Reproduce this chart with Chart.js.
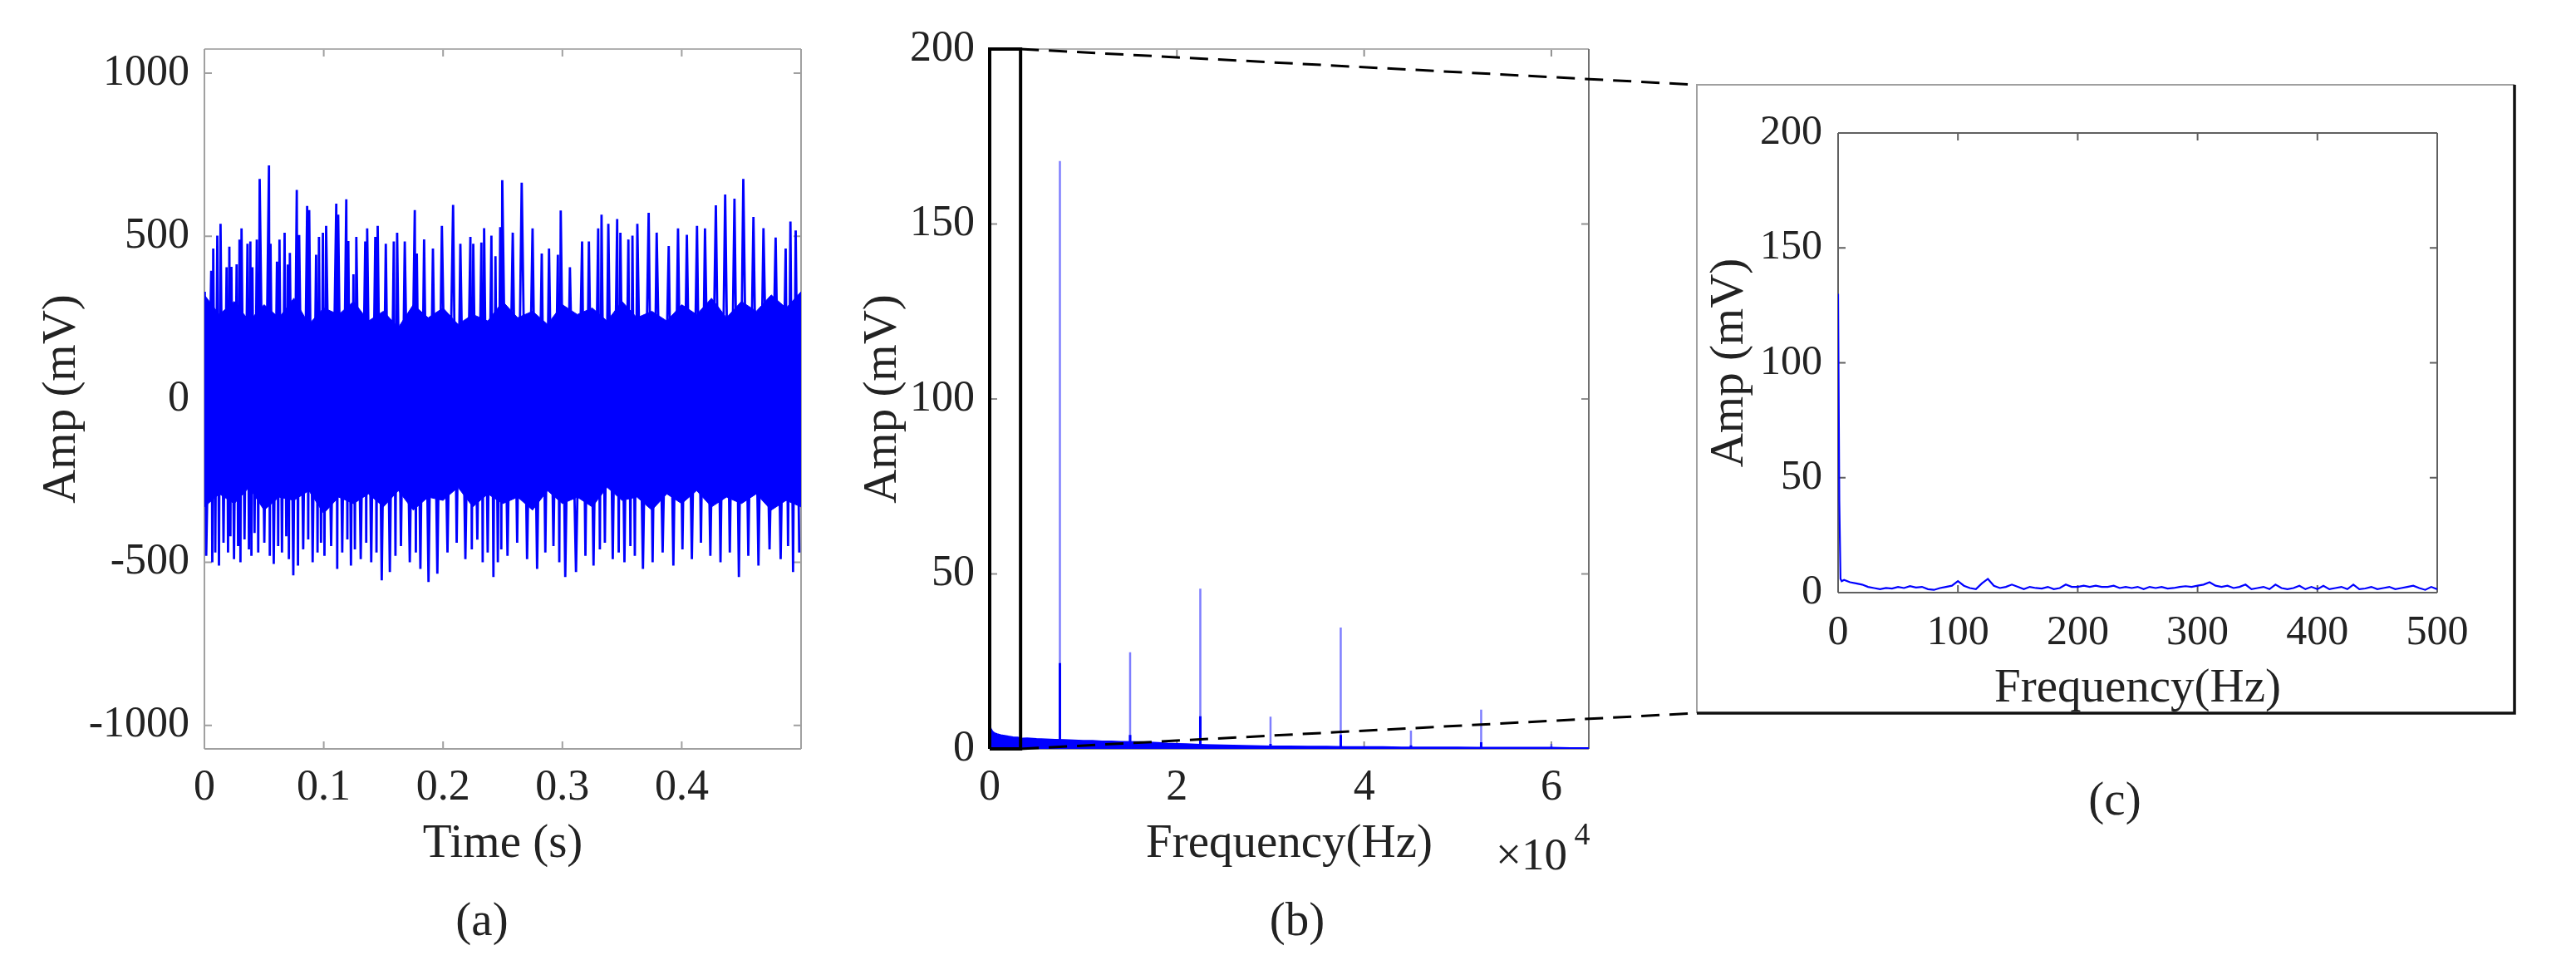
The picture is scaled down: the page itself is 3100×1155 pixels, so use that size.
<!DOCTYPE html>
<html>
<head>
<meta charset="utf-8">
<script src="https://cdn.jsdelivr.net/npm/chart.js@4.4.1/dist/chart.umd.min.js"></script>
<style>
html,body{margin:0;padding:0;background:#fff;}
#wrap{position:relative;width:3100px;height:1155px;overflow:hidden;background:#fff;font-family:"Liberation Serif","Times New Roman",serif;color:#222;}
canvas{position:absolute;top:0;}
.cap{position:absolute;transform:translate(-50%,-50%);line-height:1;white-space:nowrap;font-size:57px;}
</style>
</head>
<body>
<div id="wrap">
  <canvas id="cA" width="1000" height="1155" style="left:0px"></canvas>
  <canvas id="cB" width="1100" height="1155" style="left:1000px"></canvas>
  <canvas id="cC" width="1100" height="1155" style="left:2000px"></canvas>
  <div class="cap" style="left:580px;top:1105px">(a)</div>
  <div class="cap" style="left:1561px;top:1105px">(b)</div>
  <div class="cap" style="left:2545px;top:960px">(c)</div>
  <div class="cap" style="left:1843px;top:1027px;font-size:55px">×10</div>
  <div class="cap" style="left:1904px;top:1003px;font-size:38px">4</div>
</div>
<script>
// ---------------- Panel (a): time signal ----------------
const upperTimeA = [0.0003,0.0057,0.0074,0.0108,0.0135,0.0186,0.0209,0.0226,0.0270,0.0294,0.0311,0.0361,0.0385,0.0402,0.0439,0.0463,0.0541,0.0554,0.0608,0.0629,0.0672,0.0699,0.0716,0.0774,0.0794,0.0861,0.0878,0.0936,0.0960,0.0993,0.1020,0.1105,0.1121,0.1189,0.1206,0.1249,0.1273,0.1348,0.1364,0.1432,0.1452,0.1520,0.1587,0.1615,0.1679,0.1763,0.1780,0.1841,0.1915,0.1990,0.2084,0.2145,0.2229,0.2253,0.2321,0.2344,0.2405,0.2439,0.2479,0.2496,0.2584,0.2659,0.2750,0.2827,0.2888,0.2962,0.2986,0.3063,0.3165,0.3222,0.3300,0.3328,0.3385,0.3459,0.3486,0.3553,0.3587,0.3628,0.3723,0.3790,0.3891,0.3969,0.4043,0.4128,0.4195,0.4286,0.4364,0.4442,0.4516,0.4601,0.4685,0.4787,0.4871,0.4911,0.4955];
const upperAmpA = [330,394,462,502,538,405,468,406,414,490,524,477,484,405,490,676,717,477,422,490,511,413,449,642,504,593,580,443,498,511,532,600,566,613,485,383,498,484,524,498,532,477,484,511,484,580,447,490,462,532,596,477,498,477,481,525,502,439,528,672,511,664,524,447,462,443,579,405,484,484,524,566,538,553,511,490,502,538,572,511,470,524,504,532,524,595,628,615,676,559,525,496,462,545,518];
const lowerTimeA = [0.0015,0.0066,0.0091,0.0122,0.0160,0.0198,0.0218,0.0248,0.0282,0.0302,0.0336,0.0373,0.0394,0.0420,0.0451,0.0502,0.0548,0.0581,0.0618,0.0650,0.0686,0.0708,0.0745,0.0784,0.0828,0.0870,0.0907,0.0948,0.0977,0.1006,0.1062,0.1113,0.1155,0.1198,0.1228,0.1261,0.1310,0.1356,0.1398,0.1442,0.1486,0.1554,0.1601,0.1647,0.1721,0.1772,0.1810,0.1878,0.1952,0.2037,0.2114,0.2187,0.2241,0.2287,0.2332,0.2374,0.2422,0.2459,0.2488,0.2540,0.2621,0.2704,0.2788,0.2857,0.2925,0.2974,0.3024,0.3114,0.3193,0.3261,0.3314,0.3356,0.3422,0.3472,0.3520,0.3570,0.3607,0.3675,0.3756,0.3840,0.3930,0.4006,0.4085,0.4161,0.4240,0.4325,0.4403,0.4479,0.4558,0.4643,0.4736,0.4829,0.4891,0.4933,0.4985];
const lowerAmpA = [-480,-500,-470,-510,-440,-470,-420,-490,-450,-500,-430,-460,-480,-410,-470,-440,-480,-505,-450,-470,-420,-490,-540,-510,-460,-430,-500,-470,-440,-480,-450,-520,-470,-430,-510,-460,-490,-440,-500,-470,-555,-530,-480,-450,-500,-470,-520,-560,-535,-470,-440,-490,-460,-430,-500,-470,-545,-500,-460,-480,-440,-490,-520,-470,-450,-500,-545,-530,-480,-510,-460,-440,-490,-470,-500,-450,-480,-520,-500,-470,-510,-460,-490,-440,-480,-500,-470,-545,-480,-510,-460,-490,-450,-530,-470];
const coreTimeA = [0,0.0125,0.025,0.0375,0.05,0.0625,0.075,0.0875,0.1,0.1125,0.125,0.1375,0.15,0.1625,0.175,0.1875,0.2,0.2125,0.225,0.2375,0.25,0.2625,0.275,0.2875,0.3,0.3125,0.325,0.3375,0.35,0.3625,0.375,0.3875,0.4,0.4125,0.425,0.4375,0.45,0.4625,0.475,0.4875,0.5];
const coreUpperA = [320,260,300,240,290,250,310,230,280,260,300,240,270,220,290,250,280,230,260,240,300,250,270,230,290,260,280,240,300,250,270,240,290,260,310,250,300,270,320,280,330];
const coreLowerA = [-330,-290,-320,-270,-340,-300,-310,-280,-350,-300,-320,-290,-330,-280,-340,-300,-310,-270,-330,-290,-320,-300,-340,-280,-320,-300,-330,-270,-310,-300,-340,-290,-320,-280,-330,-300,-320,-290,-340,-310,-330];
const ticksXA = [0,0.1,0.2,0.3,0.4];
const labelsXA = ['0','0.1','0.2','0.3','0.4'];
const ticksYA = [-1000,-500,0,500,1000];
const labelsYA = ['-1000','-500','0','500','1000'];

// ---------------- Panel (b): spectrum ----------------
const floorFreqB = [0,150,300,500,800,1200,1600,2000,2500,3000,3500,4000,5000,6000,7000,8000,9000,10000,11000,12000,13000,14000,16000,17000,18000,19000,20000,21000,23000,24000,26000,28000,30000,32000,34000,36000,38000,40000,42000,44000,46000,48000,50000,52000,54000,56000,58000,60000,62000,64000];
const floorAmpB = [6.8,5.8,5.0,4.6,4.3,4.0,3.8,3.6,3.4,3.3,3.0,3.1,2.9,2.8,2.7,2.6,2.5,2.4,2.4,2.2,2.2,2.1,2.0,1.9,1.8,1.6,1.5,1.4,1.2,1.1,1.0,0.9,0.8,0.8,0.7,0.7,0.6,0.6,0.6,0.5,0.5,0.5,0.5,0.4,0.4,0.4,0.4,0.4,0.3,0.3];
const peakFreqB = [0,7500,15000,22500,30000,37500,45000,52500,60000];
const peakAmpB = [130,168,27.6,45.8,9.2,34.7,5.2,11.2,1.4];
const peakCoreB = [130,24.5,4,9.3,1.4,4,1,1.9,0.6];
const zoomBoxFreqB = [0,0,3300,3300,0];
const zoomBoxAmpB = [0,200,200,0,0];
const ticksXB = [0,20000,40000,60000];
const labelsXB = ['0','2','4','6'];
const ticksYB = [0,50,100,150,200];
const labelsYB = ['0','50','100','150','200'];

// ---------------- Panel (c): zoomed spectrum ----------------
const freqC = [0,1,2,3,5,10,15,20,25,30,35,40,45,50,55,60,65,70,75,80,85,90,95,100,105,110,115,120,125,130,135,140,145,150,155,160,165,170,175,180,185,190,195,200,205,210,215,220,225,230,235,240,245,250,255,260,265,270,275,280,285,290,295,300,305,310,315,320,325,330,335,340,345,350,355,360,365,370,375,380,385,390,395,400,405,410,415,420,425,430,435,440,445,450,455,460,465,470,475,480,485,490,495,500];
const ampC = [130,40,6,5,5.5,4.5,4,3.5,2.5,2,1.5,2,1.8,2.5,2,2.8,2.2,2.5,1.5,1.2,2,2.5,3,5,3,2,1.5,4,6,3,2,2.5,3.5,2.5,1.5,2.5,2,1.8,2.5,1.5,2,3.5,2.5,2.5,3,2.5,3,2.5,2.5,3,2,2.5,2,2.5,1.5,2.5,2,2.5,1.8,2,2.5,2.8,2.5,3,3.5,4.5,3,2.5,3,2,2.5,3.5,1.5,2,2.5,1.5,3.5,2,1.5,2,3,1.5,2.5,1.5,3,1.5,2,2.5,1.5,3.5,1.5,1.8,2.5,1.5,2,2.5,1.5,2,2.5,3,2,1.2,2.5,1.5];
const ticksXC = [0,100,200,300,400,500];
const labelsXC = ['0','100','200','300','400','500'];
const ticksYC = [0,50,100,150,200];
const labelsYC = ['0','50','100','150','200'];

// ---------------- helpers ----------------
const SERIF = '"Liberation Serif", "Times New Roman", Times, serif';
const TEXT = '#222';
const BLUE = '#0000ff';

const matlabAxes = {
  id: 'matlabAxes',
  beforeDatasetsDraw(chart, _args, o) {
    const {ctx, chartArea: A, scales: {x, y}} = chart;
    ctx.save();
    ctx.lineWidth = o.lineWidth || 2;
    const L = o.tickLength || 9;
    ctx.strokeStyle = o.tickColor;
    ctx.beginPath();
    x.ticks.forEach(t => {
      const p = x.getPixelForValue(t.value);
      ctx.moveTo(p, A.bottom); ctx.lineTo(p, A.bottom - L);
      ctx.moveTo(p, A.top); ctx.lineTo(p, A.top + L);
    });
    y.ticks.forEach(t => {
      const p = y.getPixelForValue(t.value);
      ctx.moveTo(A.left, p); ctx.lineTo(A.left + L, p);
      ctx.moveTo(A.right, p); ctx.lineTo(A.right - L, p);
    });
    ctx.stroke();
    const c = o.colors;
    [['top', A.left, A.top, A.right, A.top], ['right', A.right, A.top, A.right, A.bottom],
     ['bottom', A.left, A.bottom, A.right, A.bottom], ['left', A.left, A.top, A.left, A.bottom]]
      .forEach(([k, x1, y1, x2, y2]) => {
        ctx.strokeStyle = c[k]; ctx.beginPath(); ctx.moveTo(x1, y1); ctx.lineTo(x2, y2); ctx.stroke();
      });
    ctx.restore();
  }
};

const connectors = {
  id: 'connectors',
  afterDraw(chart, _args, o) {
    if (!o || !o.to) return;
    const {ctx, scales: {x, y}} = chart;
    ctx.save();
    ctx.setLineDash(o.dash);
    ctx.lineWidth = o.width;
    ctx.strokeStyle = o.color;
    const x0 = x.getPixelForValue(o.fromX);
    o.fromY.forEach((v, i) => {
      ctx.beginPath();
      ctx.moveTo(x0, y.getPixelForValue(v));
      ctx.lineTo(o.to[i][0], o.to[i][1]);
      ctx.stroke();
    });
    ctx.restore();
  }
};

const outerFrame = {
  id: 'outerFrame',
  beforeDraw(chart, _args, o) {
    if (!o || !o.rect) return;
    const {ctx} = chart;
    const [l, t, r, b] = o.rect;
    ctx.save();
    ctx.lineWidth = 2; ctx.strokeStyle = o.light;
    ctx.beginPath(); ctx.moveTo(l, b); ctx.lineTo(l, t); ctx.lineTo(r, t); ctx.stroke();
    ctx.lineWidth = o.darkWidth; ctx.strokeStyle = o.dark;
    ctx.beginPath(); ctx.moveTo(r, t); ctx.lineTo(r, b); ctx.lineTo(l, b); ctx.stroke();
    ctx.restore();
  }
};

function xScale(min, max, ticks, labels, title, tickSize, tickPad, height, titlePadBottom) {
  return {
    type: 'linear', position: 'bottom', min: min, max: max,
    grid: {display: false, drawTicks: false}, border: {display: false},
    afterBuildTicks: s => { s.ticks = ticks.map(v => ({value: v})); },
    afterFit: s => { s.height = height; },
    ticks: {autoSkip: false, maxRotation: 0, padding: tickPad, color: TEXT,
            font: {family: SERIF, size: tickSize}, callback: (v, i) => labels[i]},
    title: {display: true, text: title, color: TEXT, font: {family: SERIF, size: 57},
            padding: {top: 0, bottom: titlePadBottom}}
  };
}
function yScale(min, max, ticks, labels, title, tickSize, tickPad, width, titlePadTop) {
  return {
    type: 'linear', position: 'left', min: min, max: max,
    grid: {display: false, drawTicks: false}, border: {display: false},
    afterBuildTicks: s => { s.ticks = ticks.map(v => ({value: v})); },
    afterFit: s => { s.width = width; },
    ticks: {autoSkip: false, padding: tickPad, color: TEXT,
            font: {family: SERIF, size: tickSize}, callback: (v, i) => labels[i]},
    title: {display: true, text: title, color: TEXT, font: {family: SERIF, size: 57},
            padding: {top: titlePadTop, bottom: 0}}
  };
}
const baseOpts = {
  responsive: false, animation: false, events: [],
  elements: {point: {radius: 0}, line: {tension: 0}},
};

// ---------------- Chart (a) ----------------
const signalA = upperTimeA.map((t, i) => ({x: t, y: upperAmpA[i]}))
  .concat(lowerTimeA.map((t, i) => ({x: t, y: lowerAmpA[i]})))
  .sort((p, q) => p.x - q.x);

new Chart(document.getElementById('cA'), {
  type: 'line',
  data: {datasets: [
    {data: signalA, borderColor: BLUE, borderWidth: 2.8, fill: false},
    {data: coreTimeA.map((t, i) => ({x: t, y: coreUpperA[i]})), borderColor: BLUE, borderWidth: 1,
     backgroundColor: BLUE, fill: '+1'},
    {data: coreTimeA.map((t, i) => ({x: t, y: coreLowerA[i]})), borderColor: BLUE, borderWidth: 1, fill: false}
  ]},
  options: Object.assign({}, baseOpts, {
    layout: {padding: {left: 0, top: 59, right: 36, bottom: 104}},
    scales: {
      x: xScale(0, 0.5, ticksXA, labelsXA, 'Time (s)', 52, 16, 150, 1),
      y: yScale(-1072, 1074, ticksYA, labelsYA, 'Amp (mV)', 52, 18, 246, 41)
    },
    plugins: {legend: {display: false}, tooltip: {enabled: false},
      matlabAxes: {tickColor: '#a0a0a0', lineWidth: 2,
        colors: {top: '#b0b0b0', right: '#a0a0a0', bottom: '#a0a0a0', left: '#a0a0a0'}}}
  }),
  plugins: [matlabAxes]
});

// ---------------- Chart (b) ----------------
const peakLinesB = [], peakCoresB = [];
peakFreqB.forEach((f, i) => {
  peakLinesB.push({x: f, y: 0}, {x: f, y: peakAmpB[i]}, {x: f, y: null});
  peakCoresB.push({x: f, y: 0}, {x: f, y: peakCoreB[i]}, {x: f, y: null});
});

new Chart(document.getElementById('cB'), {
  type: 'line',
  data: {datasets: [
    {data: zoomBoxFreqB.map((f, i) => ({x: f, y: zoomBoxAmpB[i]})), borderColor: '#000', borderWidth: 4,
     fill: false, clip: false},
    {data: peakCoresB, borderColor: BLUE, borderWidth: 3, fill: false, spanGaps: false},
    {data: peakLinesB, borderColor: 'rgba(40,40,255,0.6)', borderWidth: 2.5, fill: false, spanGaps: false},
    {data: floorFreqB.map((f, i) => ({x: f, y: floorAmpB[i]})), borderColor: BLUE, borderWidth: 1.5,
     backgroundColor: BLUE, fill: 'origin'}
  ]},
  options: Object.assign({}, baseOpts, {
    layout: {padding: {left: 0, top: 59, right: 188, bottom: 104}},
    scales: {
      x: xScale(0, 64000, ticksXB, labelsXB, 'Frequency(Hz)', 52, 16, 150, 1),
      y: yScale(0, 200, ticksYB, labelsYB, 'Amp (mV)', 52, 18, 191, 29)
    },
    plugins: {legend: {display: false}, tooltip: {enabled: false},
      matlabAxes: {tickColor: '#909090', lineWidth: 2,
        colors: {top: '#b0b0b0', right: '#707070', bottom: '#909090', left: '#909090'}},
      connectors: {fromX: 3300, fromY: [200, 0], to: [[1042, 102], [1042, 858]],
        dash: [22, 12], width: 3, color: '#000'}}
  }),
  plugins: [matlabAxes, connectors]
});

// ---------------- Chart (c) ----------------
new Chart(document.getElementById('cC'), {
  type: 'line',
  data: {datasets: [
    {data: freqC.map((f, i) => ({x: f, y: ampC[i]})), borderColor: BLUE, borderWidth: 2.2, fill: false}
  ]},
  options: Object.assign({}, baseOpts, {
    layout: {padding: {left: 0, top: 160, right: 167, bottom: 292}},
    scales: {
      x: xScale(0, 500, ticksXC, labelsXC, 'Frequency(Hz)', 50, 19, 150, 0),
      y: yScale(0, 200, ticksYC, labelsYC, 'Amp (mV)', 50, 19, 212, 48)
    },
    plugins: {legend: {display: false}, tooltip: {enabled: false},
      matlabAxes: {tickColor: '#606060', lineWidth: 2,
        colors: {top: '#606060', right: '#606060', bottom: '#606060', left: '#606060'}},
      outerFrame: {rect: [42, 102, 1026, 858], light: '#a0a0a0', dark: '#111', darkWidth: 3.5}}
  }),
  plugins: [outerFrame, matlabAxes]
});
</script>
</body>
</html>
